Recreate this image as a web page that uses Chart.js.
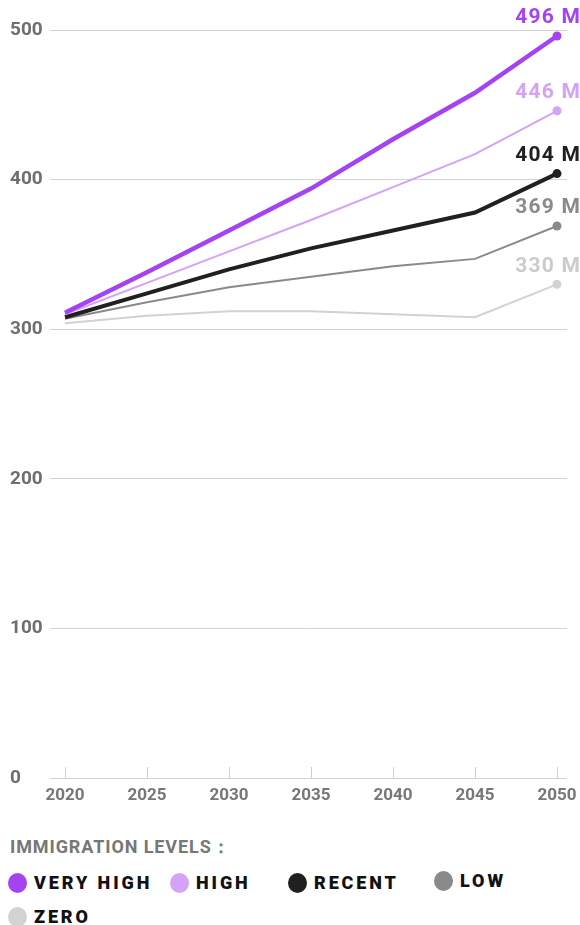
<!DOCTYPE html>
<html lang="en">
<head>
    <meta charset="UTF-8">
    <meta name="viewport" content="width=device-width, initial-scale=1.0">
    <title>US Population Projections by Immigration Level</title>
    <script src="https://cdn.jsdelivr.net/npm/chart.js"></script>
    <style>
        body { margin: 0; background: #fff; font-family: Roboto, "Liberation Sans", sans-serif; }
        #wrap { position: relative; width: 580px; height: 810px; }
        #legendTitle { margin: 25px 0 0 10px; font-size: 18px; font-weight: 700; color: #777; letter-spacing: 0.9px; }
        #legend { position: relative; height: 80px; }
        .item { position: absolute; display: flex; align-items: center; font-size: 18px; font-weight: 900; letter-spacing: 2.9px; color: #111; }
        .dot { width: 19px; height: 20px; border-radius: 50%; margin-right: 7px; }
    </style>
</head>
<body>
    <div id="wrap">
        <canvas id="popChart"></canvas>
    </div>
    <div id="legendTitle">IMMIGRATION LEVELS：</div>
    <div id="legend"></div>

    <script>
        // projected population, millions
        const years = [2020, 2025, 2030, 2035, 2040, 2045, 2050];
        const veryHigh = [311, 338, 366, 394, 427, 458, 496];
        const high = [310, 331, 352, 373, 395, 417, 446];
        const recent = [308, 324, 340, 354, 366, 378, 404];
        const low = [307, 318, 328, 335, 342, 347, 369];
        const zero = [304, 309, 312, 312, 310, 308, 330];
        const yTicks = [0, 100, 200, 300, 400, 500];

        const seriesNames = ['VERY HIGH', 'HIGH', 'RECENT', 'LOW', 'ZERO'];
        const seriesData = [veryHigh, high, recent, low, zero];
        const colors = ['#a443f2', '#d4a2f6', '#202020', '#8a8a8a', '#d2d2d2'];
        const widths = [4.5, 2, 4, 2, 2];

        // first dataset is painted last, so VERY HIGH sits on top
        const datasets = seriesNames.map((name, i) => ({
            label: name,
            data: years.map((yr, j) => ({ x: yr, y: seriesData[i][j] })),
            borderColor: colors[i],
            backgroundColor: colors[i],
            borderWidth: widths[i],
            pointRadius: years.map((yr, j) => j === years.length - 1 ? 4.5 : 0),
            pointBorderWidth: 0,
            tension: 0
        }));

        // value labels above the 2050 points
        const endLabels = {
            id: 'endLabels',
            afterDatasetsDraw(chart) {
                const ctx = chart.ctx;
                ctx.save();
                ctx.font = '700 21px Roboto, "Liberation Sans", sans-serif';
                ctx.letterSpacing = '1.2px';
                ctx.textAlign = 'right';
                ctx.textBaseline = 'middle';
                chart.data.datasets.forEach((ds, i) => {
                    const meta = chart.getDatasetMeta(i);
                    const pt = meta.data[meta.data.length - 1];
                    const val = ds.data[ds.data.length - 1].y;
                    ctx.fillStyle = colors[i] === '#d2d2d2' ? '#cbcbcb' : colors[i];
                    ctx.fillText(val + ' M', chart.width + 1, pt.y - 18);
                });
                ctx.restore();
            }
        };

        // short tick marks standing up from the baseline
        const baseTicks = {
            id: 'baseTicks',
            beforeDatasetsDraw(chart) {
                const ctx = chart.ctx;
                const x = chart.scales.x;
                const bottom = chart.chartArea.bottom;
                ctx.save();
                ctx.strokeStyle = '#cfcfcf';
                ctx.lineWidth = 1;
                years.forEach(yr => {
                    const px = Math.round(x.getPixelForValue(yr)) + 0.5;
                    ctx.beginPath();
                    ctx.moveTo(px, bottom - 11);
                    ctx.lineTo(px, bottom);
                    ctx.stroke();
                });
                ctx.restore();
            }
        };

        const fontFamily = 'Roboto, "Liberation Sans", sans-serif';

        new Chart(document.getElementById('popChart'), {
            type: 'line',
            data: { datasets },
            options: {
                responsive: true,
                maintainAspectRatio: false,
                animation: false,
                layout: { padding: { top: 30, left: 10, right: 13, bottom: 2 } },
                plugins: { legend: { display: false }, tooltip: { enabled: false } },
                scales: {
                    x: {
                        type: 'linear',
                        min: 2019.085,
                        max: 2050.61,
                        afterBuildTicks: s => { s.ticks = years.map(v => ({ value: v })); },
                        afterFit: s => { s.height = 30; s.paddingLeft = 0; s.paddingRight = 0; },
                        grid: { display: false, drawTicks: false },
                        border: { display: false },
                        ticks: { color: '#777', font: { family: fontFamily, size: 17, weight: '700' }, padding: 8, maxRotation: 0, callback: v => String(v) }
                    },
                    y: {
                        min: 0,
                        max: 500,
                        afterBuildTicks: s => { s.ticks = yTicks.map(v => ({ value: v })); },
                        afterFit: s => { s.width = 40; },
                        grid: { color: '#d3d3d3', drawTicks: false },
                        border: { display: false },
                        ticks: { color: '#6e6e6e', font: { family: fontFamily, size: 19, weight: '700' }, crossAlign: 'far', padding: 0 }
                    }
                }
            },
            plugins: [baseTicks, endLabels]
        });

        // legend built from the series list
        const legendPos = [[8, 0], [170, 0], [288, 0], [434, -2], [8, 34]];
        const legend = document.getElementById('legend');
        seriesNames.forEach((name, i) => {
            const item = document.createElement('div');
            item.className = 'item';
            item.style.left = legendPos[i][0] + 'px';
            item.style.top = (legendPos[i][1] + 13) + 'px';
            item.innerHTML = '<span class="dot" style="background:' + colors[i] + '"></span>' + name;
            legend.appendChild(item);
        });
    </script>
</body>
</html>
